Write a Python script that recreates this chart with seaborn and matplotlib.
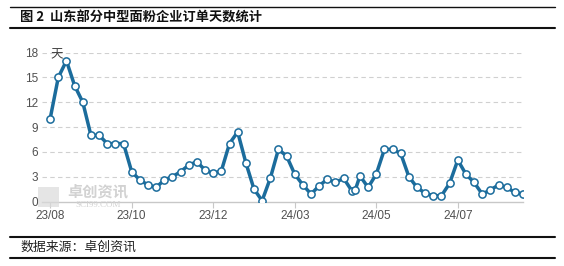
import numpy as np
import pandas as pd
import matplotlib
matplotlib.use("Agg")
import matplotlib.pyplot as plt
import matplotlib.dates as mdates
from matplotlib.lines import Line2D
from matplotlib.patches import Rectangle
import seaborn as sns

# ---- data ----
start_date = "2023-08-10"
weekly_dates = list(pd.date_range(start_date, periods=59, freq="7D"))
extra_date = pd.Timestamp("2024-04-28")
dates = sorted(weekly_dates + [extra_date])
values = [10, 15, 17, 14, 12, 8, 8, 7, 7, 7,
          3.6, 2.6, 2.0, 1.7, 2.6, 3.0, 3.6, 4.4, 4.8, 3.8,
          3.4, 3.7, 7.0, 8.4, 4.7, 1.5, 0.1, 2.8, 6.3, 5.5,
          3.3, 2.0, 0.9, 1.9, 2.7, 2.3, 2.8, 1.3, 1.4, 3.1,
          1.7, 3.3, 6.3, 6.3, 5.8, 3.0, 1.7, 1.0, 0.7, 0.7,
          2.2, 5.0, 3.3, 2.3, 0.9, 1.4, 2.0, 1.7, 1.1, 0.9]
tick_dates = list(pd.date_range(start_date, periods=6, freq="70D"))
tick_labels = ["23/08", "23/10", "23/12", "24/03", "24/05", "24/07"]
y_ticks = [0, 3, 6, 9, 12, 15, 18]
title = "图 2  山东部分中型面粉企业订单天数统计"
source = "数据来源：卓创资讯"
unit = "天"

df = pd.DataFrame({"date": dates, "value": values})

sns.set_theme(style="white")
plt.rcParams["font.family"] = ["Liberation Sans", "Noto Sans CJK SC", "DejaVu Sans"]

W, H = 564, 266
fig = plt.figure(figsize=(W / 100, H / 100), dpi=100)
ax = fig.add_axes([42 / W, 1 - 201.5 / H, (523 - 42) / W, (201.5 - 52.5) / H])

line_color = "#1b6c9c"
sns.lineplot(data=df, x="date", y="value", ax=ax, color=line_color, linewidth=2.5,
             marker="o", markersize=5.2, markerfacecolor="white",
             markeredgecolor=line_color, markeredgewidth=1.1, zorder=5)

ax.set_ylim(0, 18)
ax.set_xlim(mdates.date2num(pd.Timestamp(start_date)) - 7,
            mdates.date2num(dates[-1]))
ax.set_yticks(y_ticks)
ax.set_yticklabels([str(v) for v in y_ticks])
ax.set_xticks([mdates.date2num(d) for d in tick_dates])
ax.set_xticklabels(tick_labels)
ax.set_xlabel("")
ax.set_ylabel("")

for y in y_ticks[1:]:
    ax.axhline(y, color="#d0d0d0", linewidth=0.8, linestyle=(0, (4, 3)), zorder=1)

for s in ["top", "right", "left"]:
    ax.spines[s].set_visible(False)
ax.spines["bottom"].set_color("#c8c8c8")
ax.spines["bottom"].set_linewidth(1.0)
ax.tick_params(axis="x", which="major", length=4, width=0.8, color="#c8c8c8",
               labelsize=8.5, labelcolor="#505050", pad=2, direction="out", bottom=True)
ax.tick_params(axis="y", length=0, labelsize=8.5, labelcolor="#505050", pad=3)

ax.text(0.03, 0.985, unit, transform=ax.transAxes, fontsize=9,
        color="#404040", ha="center", va="center", family=["Noto Sans CJK SC"])

# watermark
fig.patches.append(Rectangle((38 / W, 1 - 207 / H), 21 / W, 20 / H, transform=fig.transFigure,
                             facecolor="#dadada", edgecolor="none", alpha=0.7, zorder=0))
fig.text(98 / W, 1 - 191.5 / H, "卓创资讯", fontsize=11, color="#d2d2d2", ha="center",
         va="center", family=["Noto Sans CJK SC"], fontweight="bold", zorder=0)
fig.text(98 / W, 1 - 205 / H, "SCI99.COM", fontsize=6.5, color="#d2d2d2", ha="center",
         va="center", family=["Liberation Serif"], zorder=0)

# title & footer
fig.text(20 / W, 1 - 18 / H, title, fontsize=9.5, fontweight="bold", color="#111111",
         ha="left", va="center", family=["Noto Sans CJK SC"])
fig.text(20 / W, 1 - 247 / H, source, fontsize=9.3, color="#222222",
         ha="left", va="center", family=["Noto Sans CJK SC"])
for yy, lw in [(7, 1.0), (28, 1.5), (237, 1.5), (258, 1.5)]:
    fig.lines.append(Line2D([10 / W, 555 / W], [1 - yy / H, 1 - yy / H],
                            transform=fig.transFigure, color="#111111", linewidth=lw))

fig.savefig("out.png", dpi=100)
